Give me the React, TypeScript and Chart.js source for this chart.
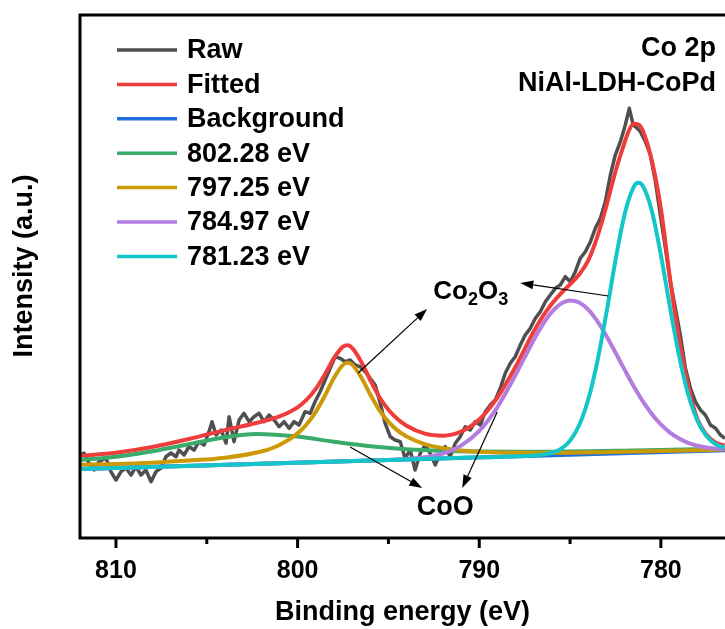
import React, { useEffect, useRef } from 'react';
import { Chart, registerables } from 'chart.js';

Chart.register(...registerables);

const FONT = "'Liberation Sans', Arial, Helvetica, sans-serif";

// ---- axis ----
const xMin = 776.47;
const xMax = 811.98;
const yMin = -0.19;
const yMax = 99.81;
const xMajorTicks = [780, 790, 800, 810];
const xMinorTicks = [785, 795, 805];
const xTitle = 'Binding energy (eV)';
const yTitle = 'Intensity (a.u.)';

// ---- legend ----
const legendLabels = ['Raw', 'Fitted', 'Background', '802.28 eV', '797.25 eV', '784.97 eV', '781.23 eV'];
const seriesColors = ['#4f4f4f', '#ee3d3b', '#1f6fdc', '#39ab6b', '#cc9a06', '#b27ddf', '#14c6c8'];

// ---- raw spectrum ----
const rawE = [812.0, 811.76, 811.49, 811.21, 810.94, 810.55, 810.28, 810.0, 809.72, 809.45,
  809.17, 808.9, 808.62, 808.35, 808.07, 807.8, 807.52, 807.25, 806.97, 806.69,
  806.53, 806.25, 805.98, 805.7, 805.43, 805.15, 804.88, 804.71, 804.49, 804.21,
  803.94, 803.77, 803.5, 803.22, 802.95, 802.67, 802.4, 802.12, 801.85, 801.57,
  801.29, 801.02, 800.74, 800.47, 800.19, 799.92,
  799.59, 799.31, 799.04, 798.76, 798.48, 798.21, 797.93, 797.66, 797.38, 797.11,
  796.83, 796.56, 796.28, 796.01, 795.73, 795.45, 795.18, 794.9, 794.63, 794.35,
  794.08, 793.8, 793.53, 793.25, 792.98, 792.7, 792.42, 792.15, 791.87, 791.6,
  791.32, 791.05, 790.77, 790.5, 790.22, 789.94, 789.67, 789.39, 789.12, 788.84,
  788.57, 788.29, 788.02, 787.74,
  787.47, 787.19, 786.91, 786.64, 786.36, 786.09, 785.81, 785.54, 785.26, 784.99,
  784.71, 784.44, 784.16, 783.88, 783.61, 783.33, 783.06, 782.78, 782.51, 782.23,
  781.96, 781.74, 781.52, 781.3, 781.13, 780.85, 780.58, 780.3, 780.03, 779.75,
  779.48, 779.2, 778.93, 778.65, 778.37, 778.1, 777.82, 777.55, 777.27, 776.99,
  776.72, 776.47];
const rawI = [15.35, 16.06, 14.15, 12.81, 14.40, 15.11, 12.49, 10.90, 12.49, 13.19,
  11.85, 13.44, 11.85, 12.81, 10.57, 12.49, 13.19, 15.35, 16.06, 15.35,
  16.63, 15.68, 17.27, 16.63, 18.22, 17.59, 20.13, 22.05, 19.50, 20.46,
  17.97, 23.00, 18.22, 22.37, 23.65, 22.05, 23.00, 23.65, 22.05, 23.33,
  22.37, 21.09, 22.05, 20.78, 22.05, 21.41,
  23.96, 23.65, 25.87, 27.78, 30.02, 32.26, 34.47, 34.17, 33.52, 33.84,
  32.89, 32.56, 31.61, 30.34, 29.06, 25.56, 21.74, 19.18, 18.55, 18.22,
  15.05, 16.63, 12.81, 16.00, 17.59, 16.00, 13.77, 16.00, 17.27, 15.35,
  17.92, 19.18, 21.09, 20.46, 22.05, 21.41, 23.96, 25.24, 26.20, 28.43,
  31.30, 33.21, 34.47, 36.71,
  38.62, 39.90, 41.82, 43.08, 44.99, 46.27, 47.55, 48.18, 49.77, 48.81,
  50.73, 53.29, 54.55, 56.46, 59.02, 60.94, 64.11, 69.22, 73.04, 75.58,
  78.78, 81.97, 78.78, 78.14, 77.50, 75.58, 73.04, 67.93, 61.57, 55.20,
  48.81, 43.73, 38.62, 32.26, 28.43, 25.87, 24.28, 23.33, 21.41, 20.78,
  19.50, 18.87];

// ---- fitted envelope ----
const fitE = [812, 810, 808, 806, 804, 802, 801, 800, 799.5, 799, 798.5, 798, 797.5, 797.25, 797,
  796.5, 796, 795.5, 795, 794.5, 794, 793, 792, 791, 790, 789, 788, 787, 786.5, 786, 785.5,
  785, 784.5, 784, 783.5, 783, 782.5, 782, 781.75, 781.5, 781.25, 781, 780.5, 780, 779.5,
  779, 778.5, 778, 777.5, 777, 776.5];
const fitI = [15.50, 16.10, 17.20, 18.73, 20.43, 22.04, 23.05, 24.80, 26.25, 28.32, 31.09, 34.19, 36.40, 36.65, 36.17,
  33.52, 29.98, 26.78, 24.35, 22.56, 21.27, 19.77, 19.38, 20.17, 22.48, 26.67, 32.54, 39.30, 42.20, 44.60, 46.60,
  48.30, 50.20, 52.90, 57.40, 63.30, 69.90, 75.40, 77.80, 79.00, 78.90, 77.70, 72.00, 62.80, 49.50,
  37.80, 29.00, 22.60, 19.60, 18.10, 17.50];

// ---- background ----
const bgE = [812, 794, 776.47];
const bgI = [13.0, 14.83, 16.6];

// ---- component 802.28 eV ----
const c802E = [812, 810, 808, 806, 804, 802.28, 800, 798, 796, 794, 792, 790, 788, 786, 784, 782, 780, 778, 776.5];
const c802I = [14.70, 15.35, 16.40, 17.73, 19.08, 19.68, 19.20, 18.20, 17.34, 16.79, 16.48, 16.33, 16.29, 16.32, 16.39, 16.50, 16.62, 16.78, 16.89];

// ---- component 797.25 eV ----
const c797E = [812, 810, 808, 806, 804, 802, 801, 800, 799.5, 799, 798.5, 798, 797.5, 797.25, 797, 796.5, 796,
  795.5, 795, 794.5, 794, 793, 792, 791, 790, 788, 786, 784, 782, 780, 778, 776.5];
const c797I = [13.80, 13.95, 14.21, 14.61, 15.16, 16.35, 17.60, 19.82, 21.56, 23.93, 27.01, 30.41, 32.91, 33.30, 32.96, 30.56, 27.26,
  24.28, 22.01, 20.38, 19.21, 17.76, 16.99, 16.56, 16.31, 16.11, 16.10, 16.18, 16.30, 16.44, 16.61, 16.74];

// ---- component 784.97 eV ----
const c785E = [812, 796, 794, 793, 792, 791, 790, 789, 788, 787, 786.5, 786, 785.5, 785, 784.5, 784, 783.5, 783,
  782.5, 782, 781.5, 781, 780.5, 780, 779.5, 779, 778.5, 778, 777.5, 777, 776.5];
const c785I = [13.00, 14.62, 14.93, 15.26, 15.97, 17.48, 20.30, 24.85, 31.00, 37.68, 40.65, 43.04, 44.62, 45.24, 44.84, 43.47, 41.27, 38.45,
  35.28, 32.00, 28.84, 25.98, 23.53, 21.52, 19.96, 18.82, 18.00, 17.45, 17.11, 16.90, 16.80];

// ---- component 781.23 eV ----
const c781E = [812, 790, 787, 786.5, 786, 785.5, 785, 784.5, 784, 783.5, 783, 782.5, 782, 781.5, 781.25, 781,
  780.5, 780, 779.5, 779, 778.5, 778, 777.5, 777, 776.5];
const c781I = [13.00, 15.23, 15.59, 15.75, 16.09, 16.85, 18.42, 21.36, 26.29, 33.55, 42.83, 52.88, 61.65, 66.91, 67.72, 67.17,
  62.37, 53.90, 43.97, 34.68, 27.34, 22.34, 19.35, 17.79, 17.09];

// ---- annotations (data coordinates) ----
const arrowFromE = [796.67, 782.89, 797.11, 789.01];
const arrowFromI = [31.36, 46.08, 17.2, 23.9];
const arrowToE = [792.87, 787.74, 793.14, 790.94];
const arrowToI = [43.6, 48.57, 9.37, 9.37];
const co2o3Label = { e: 792.53, i: 47.23 };
const cooLabel = { e: 791.87, i: 5.74, text: 'CoO' };
const titleLines = ['Co 2p', 'NiAl-LDH-CoPd'];

const pts = (E: number[], I: number[]) => E.map((e, k) => ({ x: e, y: I[k] }));

const bold = (size: number) => `bold ${size}px ${FONT}`;

const framePlugin = {
  id: 'frameTicks',
  afterDatasetsDraw(chart: any) {
    const { ctx, chartArea, scales } = chart;
    const { left, top, right, bottom } = chartArea;
    const xs = scales.x;
    ctx.save();
    ctx.strokeStyle = '#000';
    ctx.lineWidth = 3;
    ctx.lineCap = 'square';
    ctx.beginPath();
    ctx.moveTo(right + 5, top);
    ctx.lineTo(left, top);
    ctx.lineTo(left, bottom);
    ctx.lineTo(right + 5, bottom);
    ctx.stroke();
    ctx.lineCap = 'butt';
    xMajorTicks.forEach((v) => {
      const px = xs.getPixelForValue(v);
      ctx.beginPath();
      ctx.moveTo(px, bottom);
      ctx.lineTo(px, bottom + 10);
      ctx.stroke();
    });
    xMinorTicks.forEach((v) => {
      const px = xs.getPixelForValue(v);
      ctx.beginPath();
      ctx.moveTo(px, bottom);
      ctx.lineTo(px, bottom + 6);
      ctx.stroke();
    });
    ctx.restore();
  },
};

function drawArrow(ctx: CanvasRenderingContext2D, x1: number, y1: number, x2: number, y2: number) {
  const ang = Math.atan2(y2 - y1, x2 - x1);
  const hl = 13;
  const hw = 4.5;
  const bx = x2 - hl * Math.cos(ang);
  const by = y2 - hl * Math.sin(ang);
  ctx.beginPath();
  ctx.moveTo(x1, y1);
  ctx.lineTo(bx, by);
  ctx.stroke();
  ctx.beginPath();
  ctx.moveTo(x2, y2);
  ctx.lineTo(bx + hw * Math.sin(ang), by - hw * Math.cos(ang));
  ctx.lineTo(bx - hw * Math.sin(ang), by + hw * Math.cos(ang));
  ctx.closePath();
  ctx.fill();
}

const overlayPlugin = {
  id: 'overlay',
  afterDraw(chart: any) {
    const { ctx, chartArea, scales } = chart;
    const xs = scales.x;
    const ys = scales.y;
    ctx.save();
    // y-axis title
    ctx.save();
    ctx.translate(25, chartArea.top + 251);
    ctx.rotate(-Math.PI / 2);
    ctx.font = bold(27);
    ctx.fillStyle = '#000';
    ctx.textAlign = 'center';
    ctx.textBaseline = 'middle';
    ctx.fillText(yTitle, 0, 0);
    ctx.restore();
    // legend
    ctx.textBaseline = 'middle';
    ctx.textAlign = 'left';
    ctx.font = bold(27);
    legendLabels.forEach((lab, k) => {
      const y = chartArea.top + 35 + k * 34.4;
      ctx.strokeStyle = seriesColors[k];
      ctx.lineWidth = 3.5;
      ctx.beginPath();
      ctx.moveTo(chartArea.left + 37, y);
      ctx.lineTo(chartArea.left + 97, y);
      ctx.stroke();
      ctx.fillStyle = '#000';
      ctx.fillText(lab, chartArea.left + 107, y + 1);
    });
    // sample title
    ctx.textAlign = 'right';
    titleLines.forEach((t, k) => {
      ctx.fillText(t, chartArea.right - 9, chartArea.top + 34 + k * 35);
    });
    // arrows
    ctx.strokeStyle = '#000';
    ctx.fillStyle = '#000';
    ctx.lineWidth = 1.2;
    arrowFromE.forEach((e, k) => {
      drawArrow(ctx,
        xs.getPixelForValue(e), ys.getPixelForValue(arrowFromI[k]),
        xs.getPixelForValue(arrowToE[k]), ys.getPixelForValue(arrowToI[k]));
    });
    // Co2O3 with subscripts
    let x = xs.getPixelForValue(co2o3Label.e);
    const y = ys.getPixelForValue(co2o3Label.i);
    ctx.textAlign = 'left';
    ctx.textBaseline = 'alphabetic';
    const base = y + 9;
    const parts: [string, boolean][] = [['Co', false], ['2', true], ['O', false], ['3', true]];
    parts.forEach(([t, sub]) => {
      ctx.font = sub ? bold(18) : bold(26);
      ctx.fillText(t, x, sub ? base + 6 : base);
      x += ctx.measureText(t).width;
    });
    // CoO
    ctx.font = bold(27);
    ctx.textAlign = 'center';
    ctx.textBaseline = 'middle';
    ctx.fillText(cooLabel.text, xs.getPixelForValue(cooLabel.e), ys.getPixelForValue(cooLabel.i) + 1);
    ctx.restore();
  },
};

export default function App() {
  const ref = useRef<HTMLCanvasElement>(null);
  useEffect(() => {
    if (!ref.current) return;
    const line = (label: string, E: number[], I: number[], k: number, smooth: boolean, width: number) => ({
      label,
      data: pts(E, I),
      borderColor: seriesColors[k],
      backgroundColor: seriesColors[k],
      borderWidth: width,
      pointRadius: 0,
      fill: false,
      tension: 0,
      borderJoinStyle: 'round',
      cubicInterpolationMode: smooth ? 'monotone' : 'default',
      order: 10 - k,
    });
    const chart = new Chart(ref.current, {
      type: 'line',
      data: {
        datasets: [
          line(legendLabels[0], rawE, rawI, 0, false, 3.5),
          line(legendLabels[1], fitE, fitI, 1, true, 4),
          line(legendLabels[2], bgE, bgI, 2, false, 4),
          line(legendLabels[3], c802E, c802I, 3, true, 4),
          line(legendLabels[4], c797E, c797I, 4, true, 4),
          line(legendLabels[5], c785E, c785I, 5, true, 4),
          line(legendLabels[6], c781E, c781I, 6, true, 4),
        ] as any,
      },
      options: {
        animation: false,
        responsive: false,
        devicePixelRatio: 1,
        layout: { padding: { top: 15, right: 0, left: 0, bottom: 0 } },
        plugins: { legend: { display: false }, tooltip: { enabled: false } },
        scales: {
          x: {
            type: 'linear',
            reverse: true,
            min: xMin,
            max: xMax,
            afterFit: (s: any) => { s.height = 91; },
            afterBuildTicks: (s: any) => { s.ticks = xMajorTicks.map((v) => ({ value: v })); },
            ticks: {
              font: { family: FONT, size: 25, weight: 'bold' },
              color: '#000',
              padding: 18,
              maxRotation: 0,
              autoSkip: false,
              callback: (v: any) => String(v),
            },
            grid: { display: false, drawTicks: false },
            border: { display: false },
            title: {
              display: true,
              text: xTitle,
              color: '#000',
              font: { family: FONT, size: 27, weight: 'bold' },
              padding: { top: 0, bottom: 0 },
            },
          },
          y: {
            type: 'linear',
            min: yMin,
            max: yMax,
            afterFit: (s: any) => { s.width = 80; },
            ticks: { display: false },
            grid: { display: false, drawTicks: false },
            border: { display: false },
            title: { display: false },
          },
        },
      } as any,
      plugins: [framePlugin, overlayPlugin],
    });
    return () => chart.destroy();
  }, []);
  return (
    <div style={{ position: 'absolute', left: 0, top: 0, width: 725, height: 629, background: '#fff', overflow: 'hidden' }}>
      <canvas ref={ref} width={725} height={629} style={{ display: 'block', width: 725, height: 629 }} />
    </div>
  );
}
